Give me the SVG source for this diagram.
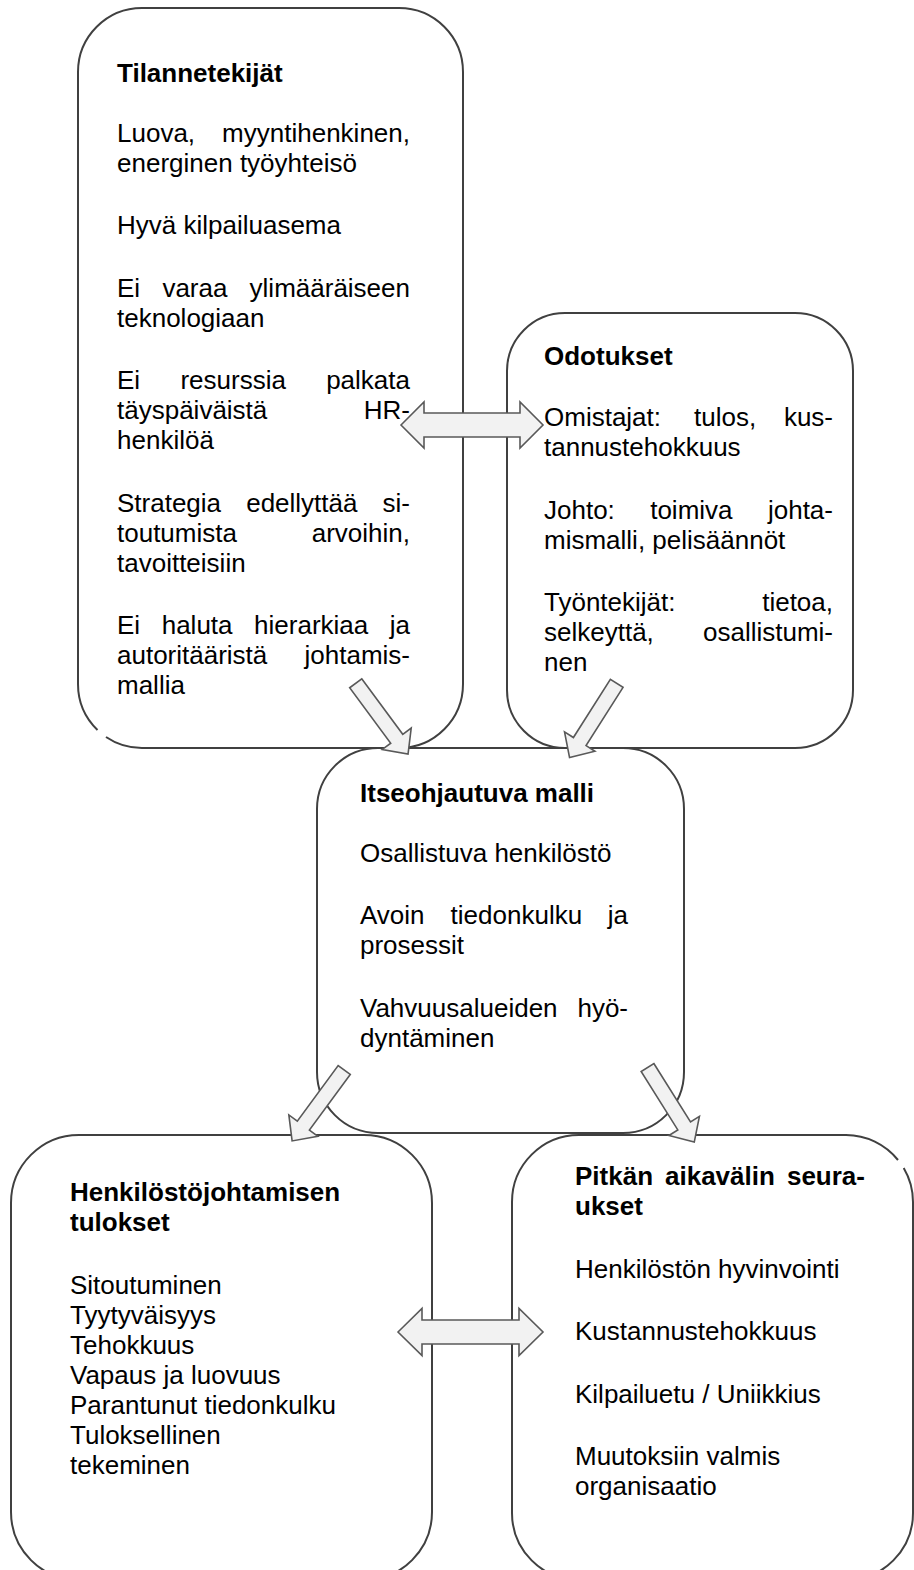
<svg xmlns="http://www.w3.org/2000/svg" width="914" height="1570" viewBox="0 0 914 1570">
<style>
.box{fill:#fff;stroke:none}
.edge{fill:none;stroke:#404040;stroke-width:2}
.arr{fill:#f2f2f2;stroke:#595959;stroke-width:1.6;stroke-linejoin:miter}
text{font-family:"Liberation Sans",Arial,sans-serif;font-size:26px;fill:#000}
.h{font-weight:bold}
.e{text-anchor:end}
</style>
<defs>
<polygon id="darr" points="0,-7.5 69,-7.5 69,-18 88,0 69,18 69,7.5 0,7.5"/>
</defs>
<rect width="914" height="1570" fill="#fff"/>

<g id="node-tilannetekijat">
<rect class="box" x="78" y="8" width="385" height="740" rx="64"/>
<path class="edge" d="M106,737 A64,64 0 0 0 142,748 L399,748 A64,64 0 0 0 463,684 L463,72 A64,64 0 0 0 399,8 L142,8 A64,64 0 0 0 78,72 L78,684 A64,64 0 0 0 97.5,730"/>
<text class="h" x="117" y="82">Tilannetekijät</text>
<text y="142"><tspan x="117">Luova,</tspan><tspan class="e" x="410">myyntihenkinen,</tspan></text>
<text x="117" y="172">energinen työyhteisö</text>
<text x="117" y="234">Hyvä kilpailuasema</text>
<text y="297"><tspan x="117">Ei</tspan><tspan x="162.4">varaa</tspan><tspan class="e" x="410">ylimääräiseen</tspan></text>
<text x="117" y="327">teknologiaan</text>
<text y="389"><tspan x="117">Ei</tspan><tspan x="180.4">resurssia</tspan><tspan class="e" x="410">palkata</tspan></text>
<text y="419"><tspan x="117">täyspäiväistä</tspan><tspan class="e" x="410">HR-</tspan></text>
<text x="117" y="449">henkilöä</text>
<text y="512"><tspan x="117">Strategia</tspan><tspan x="246.2">edellyttää</tspan><tspan class="e" x="410">si-</tspan></text>
<text y="542"><tspan x="117">toutumista</tspan><tspan class="e" x="410">arvoihin,</tspan></text>
<text x="117" y="572">tavoitteisiin</text>
<text y="634"><tspan x="117">Ei</tspan><tspan x="161.7">haluta</tspan><tspan x="254.1">hierarkiaa</tspan><tspan class="e" x="410">ja</tspan></text>
<text y="664"><tspan x="117">autoritääristä</tspan><tspan class="e" x="410">johtamis-</tspan></text>
<text x="117" y="694">mallia</text>
</g>

<g id="node-odotukset">
<rect class="box" x="507" y="313" width="346" height="435" rx="58"/>
<rect class="edge" x="507" y="313" width="346" height="435" rx="58"/>
<text class="h" x="544" y="365">Odotukset</text>
<text y="426"><tspan x="544">Omistajat:</tspan><tspan x="694">tulos,</tspan><tspan class="e" x="833">kus-</tspan></text>
<text x="544" y="456">tannustehokkuus</text>
<text y="519"><tspan x="544">Johto:</tspan><tspan x="650.2">toimiva</tspan><tspan class="e" x="833">johta-</tspan></text>
<text x="544" y="549">mismalli, pelisäännöt</text>
<text y="611"><tspan x="544">Työntekijät:</tspan><tspan class="e" x="833">tietoa,</tspan></text>
<text y="641"><tspan x="544">selkeyttä,</tspan><tspan class="e" x="833">osallistumi-</tspan></text>
<text x="544" y="671">nen</text>
</g>

<g id="node-itseohjautuva">
<rect class="box" x="317" y="748" width="367" height="385" rx="61"/>
<rect class="edge" x="317" y="748" width="367" height="385" rx="61"/>
<text class="h" x="360" y="802">Itseohjautuva malli</text>
<text x="360" y="862">Osallistuva henkilöstö</text>
<text y="924"><tspan x="360">Avoin</tspan><tspan x="450.6">tiedonkulku</tspan><tspan class="e" x="628">ja</tspan></text>
<text x="360" y="954">prosessit</text>
<text y="1017"><tspan x="360">Vahvuusalueiden</tspan><tspan class="e" x="628">hyö-</tspan></text>
<text x="360" y="1047">dyntäminen</text>
</g>

<g id="node-tulokset">
<rect class="box" x="11" y="1135" width="421" height="445" rx="68"/>
<rect class="edge" x="11" y="1135" width="421" height="445" rx="68"/>
<text class="h" x="70" y="1201">Henkilöstöjohtamisen</text>
<text class="h" x="70" y="1231">tulokset</text>
<text x="70" y="1294">Sitoutuminen</text>
<text x="70" y="1324">Tyytyväisyys</text>
<text x="70" y="1354">Tehokkuus</text>
<text x="70" y="1384">Vapaus ja luovuus</text>
<text x="70" y="1414">Parantunut tiedonkulku</text>
<text x="70" y="1444">Tuloksellinen</text>
<text x="70" y="1474">tekeminen</text>
</g>

<g id="node-seuraukset">
<rect class="box" x="512" y="1135" width="401" height="445" rx="67"/>
<path class="edge" d="M903.7,1168 A67,67 0 0 1 913,1202 L913,1513 A67,67 0 0 1 846,1580 L579,1580 A67,67 0 0 1 512,1513 L512,1202 A67,67 0 0 1 579,1135 L846,1135 A67,67 0 0 1 898,1160"/>
<text y="1185" class="h"><tspan x="575">Pitkän</tspan><tspan x="665">aikavälin</tspan><tspan class="e" x="865">seura-</tspan></text>
<text class="h" x="575" y="1215">ukset</text>
<text x="575" y="1278">Henkilöstön hyvinvointi</text>
<text x="575" y="1340">Kustannustehokkuus</text>
<text x="575" y="1403">Kilpailuetu / Uniikkius</text>
<text x="575" y="1465">Muutoksiin valmis</text>
<text x="575" y="1495">organisaatio</text>
</g>

<g id="connectors">
<polygon class="arr" points="401,425 424,402 424,413 520,413 520,402 543,425 520,448 520,437 424,437 424,448"/>
<polygon class="arr" points="398,1332 422,1308.5 422,1320 519,1320 519,1308.5 543,1332 519,1355.5 519,1344 422,1344 422,1355.5"/>
<use href="#darr" class="arr" transform="translate(355.7,683.3) rotate(53.5)"/>
<use href="#darr" class="arr" transform="translate(616.7,683.3) rotate(122.4)"/>
<use href="#darr" class="arr" transform="translate(344.2,1070) rotate(126.3)"/>
<use href="#darr" class="arr" transform="translate(647.5,1067.5) rotate(57.9)"/>
</g>
</svg>
